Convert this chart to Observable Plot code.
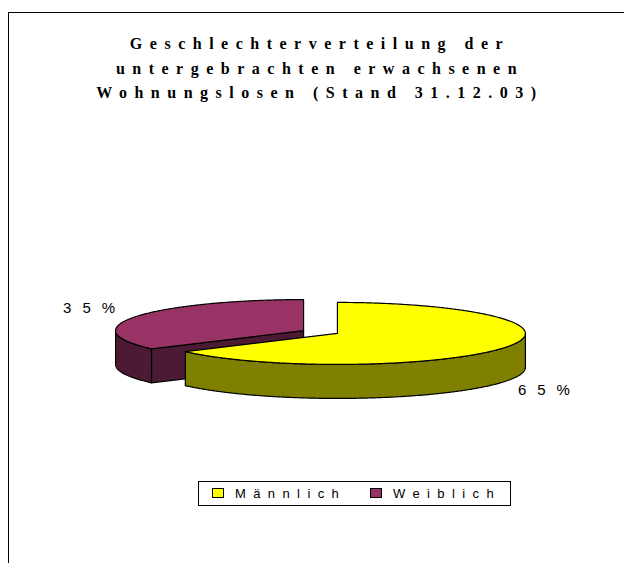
<!DOCTYPE html>
<html>
<head>
<meta charset="utf-8">
<script src="https://cdn.jsdelivr.net/npm/d3@7"></script>
<script src="https://cdn.jsdelivr.net/npm/@observablehq/plot@0.6"></script>
<style>
  html, body { margin: 0; padding: 0; background: #fff; }
  #wrap { position: relative; width: 624px; height: 563px; overflow: hidden; background: #fff; }
  #frame { position: absolute; left: 8px; top: 12px; width: 700px; height: 700px;
           border-left: 1.5px solid #000; border-top: 1.5px solid #000; }
  #chart { position: absolute; left: 0; top: 0; }
  #chart svg text { letter-spacing: 11px; }
  #title { position: absolute; left: 0; top: 32.4px; width: 640px; text-align: center;
           font-family: "Liberation Serif", "Times New Roman", serif; font-weight: bold;
           font-size: 16px; letter-spacing: 7.5px; line-height: 24.5px; color: #000; }
  #legend { position: absolute; left: 198px; top: 481px; width: 313px; height: 25px;
            border: 1px solid #000; box-sizing: border-box; font-family: "Liberation Sans", Arial, sans-serif;
            font-size: 13px; letter-spacing: 7.4px; color: #000; }
  .item { position: absolute; top: 4px; line-height: 15px; white-space: nowrap; }
  .sw { display: inline-block; width: 10px; height: 8px; border: 1.5px solid #000; margin-right: 11px; vertical-align: 0px; }
</style>
</head>
<body>
<div id="wrap">
  <div id="frame"></div>
  <div id="chart"></div>
  <div id="title"></div>
  <div id="legend"></div>
</div>
<script>
// ---- data ----
const categories = ["Männlich", "Weiblich"];
const values = [65, 35];
const percentLabels = ["65%", "35%"];
const titleLines = ["Geschlechterverteilung der", "untergebrachten erwachsenen", "Wohnungslosen (Stand 31.12.03)"];
// ---- styles ----
const topColors = ["#FFFF00", "#993366"];
const sideColors = ["#808000", "#4D1A33"];

// geometry (in unit-ellipse space; scales map to pixels)
const DEPTH = 34 / 31;
const EXPLODE = 0.101;

const arcs = d3.pie().sort(null)(values);
const slices = arcs.map((a, i) => {
  const m = (a.startAngle + a.endAngle) / 2;
  return {i, s: a.startAngle, e: a.endAngle, m,
          ox: EXPLODE * Math.sin(m), oy: EXPLODE * Math.cos(m),
          label: percentLabels[i], name: categories[i]};
});

const pt = (sl, t, z) => ({x: sl.ox + Math.sin(t), y: sl.oy + Math.cos(t) - z});
const ctr = (sl, z) => ({x: sl.ox, y: sl.oy - z});
function arcPts(sl, a0, a1, z) {
  const n = Math.max(2, Math.ceil(Math.abs(a1 - a0) / (Math.PI / 360)));
  return d3.range(n + 1).map(k => pt(sl, a0 + (a1 - a0) * k / n, z));
}

const order = slices.slice().sort((a, b) => Math.cos(b.m) - Math.cos(a.m));
const marks = [];
const faceOpts = {x: "x", y: "y", stroke: "#000", strokeWidth: 1.2, curve: "linear-closed", strokeLinejoin: "round"};
for (const sl of order) {
  // radial inner faces
  for (const [t, nrm] of [[sl.s, sl.s - Math.PI / 2], [sl.e, sl.e + Math.PI / 2]]) {
    if (Math.cos(nrm) < -1e-6) {
      const face = [ctr(sl, 0), pt(sl, t, 0), pt(sl, t, DEPTH), ctr(sl, DEPTH)];
      marks.push(Plot.line(face, {...faceOpts, fill: sideColors[sl.i]}));
    }
  }
  // outer wall (front half only)
  const a0 = Math.max(sl.s, Math.PI / 2), a1 = Math.min(sl.e, 3 * Math.PI / 2);
  if (a1 > a0) {
    const wall = [...arcPts(sl, a0, a1, 0), ...arcPts(sl, a1, a0, DEPTH)];
    marks.push(Plot.line(wall, {...faceOpts, fill: sideColors[sl.i]}));
  }
  // top face
  const top = [ctr(sl, 0), ...arcPts(sl, sl.s, sl.e, 0)];
  marks.push(Plot.line(top, {...faceOpts, fill: topColors[sl.i]}));
}

// percent labels
const labelPt = sl => {
  const p = pt(sl, sl.m, Math.cos(sl.m) < 0 ? DEPTH : 0);
  return {...p, label: sl.label};
};
const right = slices.filter(sl => Math.sin(sl.m) >= 0).map(labelPt);
const left = slices.filter(sl => Math.sin(sl.m) < 0).map(labelPt);
const textOpts = {x: "x", y: "y", text: "label", fontSize: 15, fontFamily: "Liberation Sans, Arial, sans-serif", fill: "#000"};
marks.push(Plot.text(right, {...textOpts, textAnchor: "start", dx: 13, dy: 9}));
marks.push(Plot.text(left, {...textOpts, textAnchor: "end", dx: -10, dy: -8}));

const chart = Plot.plot({
  width: 624, height: 563, margin: 0,
  x: {domain: [-1, 1], range: [132, 508], axis: null},
  y: {domain: [-1, 1], range: [362.5, 300.5], axis: null},
  style: {background: "transparent", overflow: "visible"},
  marks
});
document.getElementById("chart").appendChild(chart);

// title
document.getElementById("title").innerHTML = titleLines.map(t => `<div>${t}</div>`).join("");

// legend
const legend = document.getElementById("legend");
const itemLeft = [13, 171];
categories.forEach((c, i) => {
  const d = document.createElement("div");
  d.className = "item";
  d.style.left = itemLeft[i] + "px";
  d.innerHTML = `<span class="sw" style="background:${topColors[i]}"></span>${c}`;
  legend.appendChild(d);
});
</script>
</body>
</html>
